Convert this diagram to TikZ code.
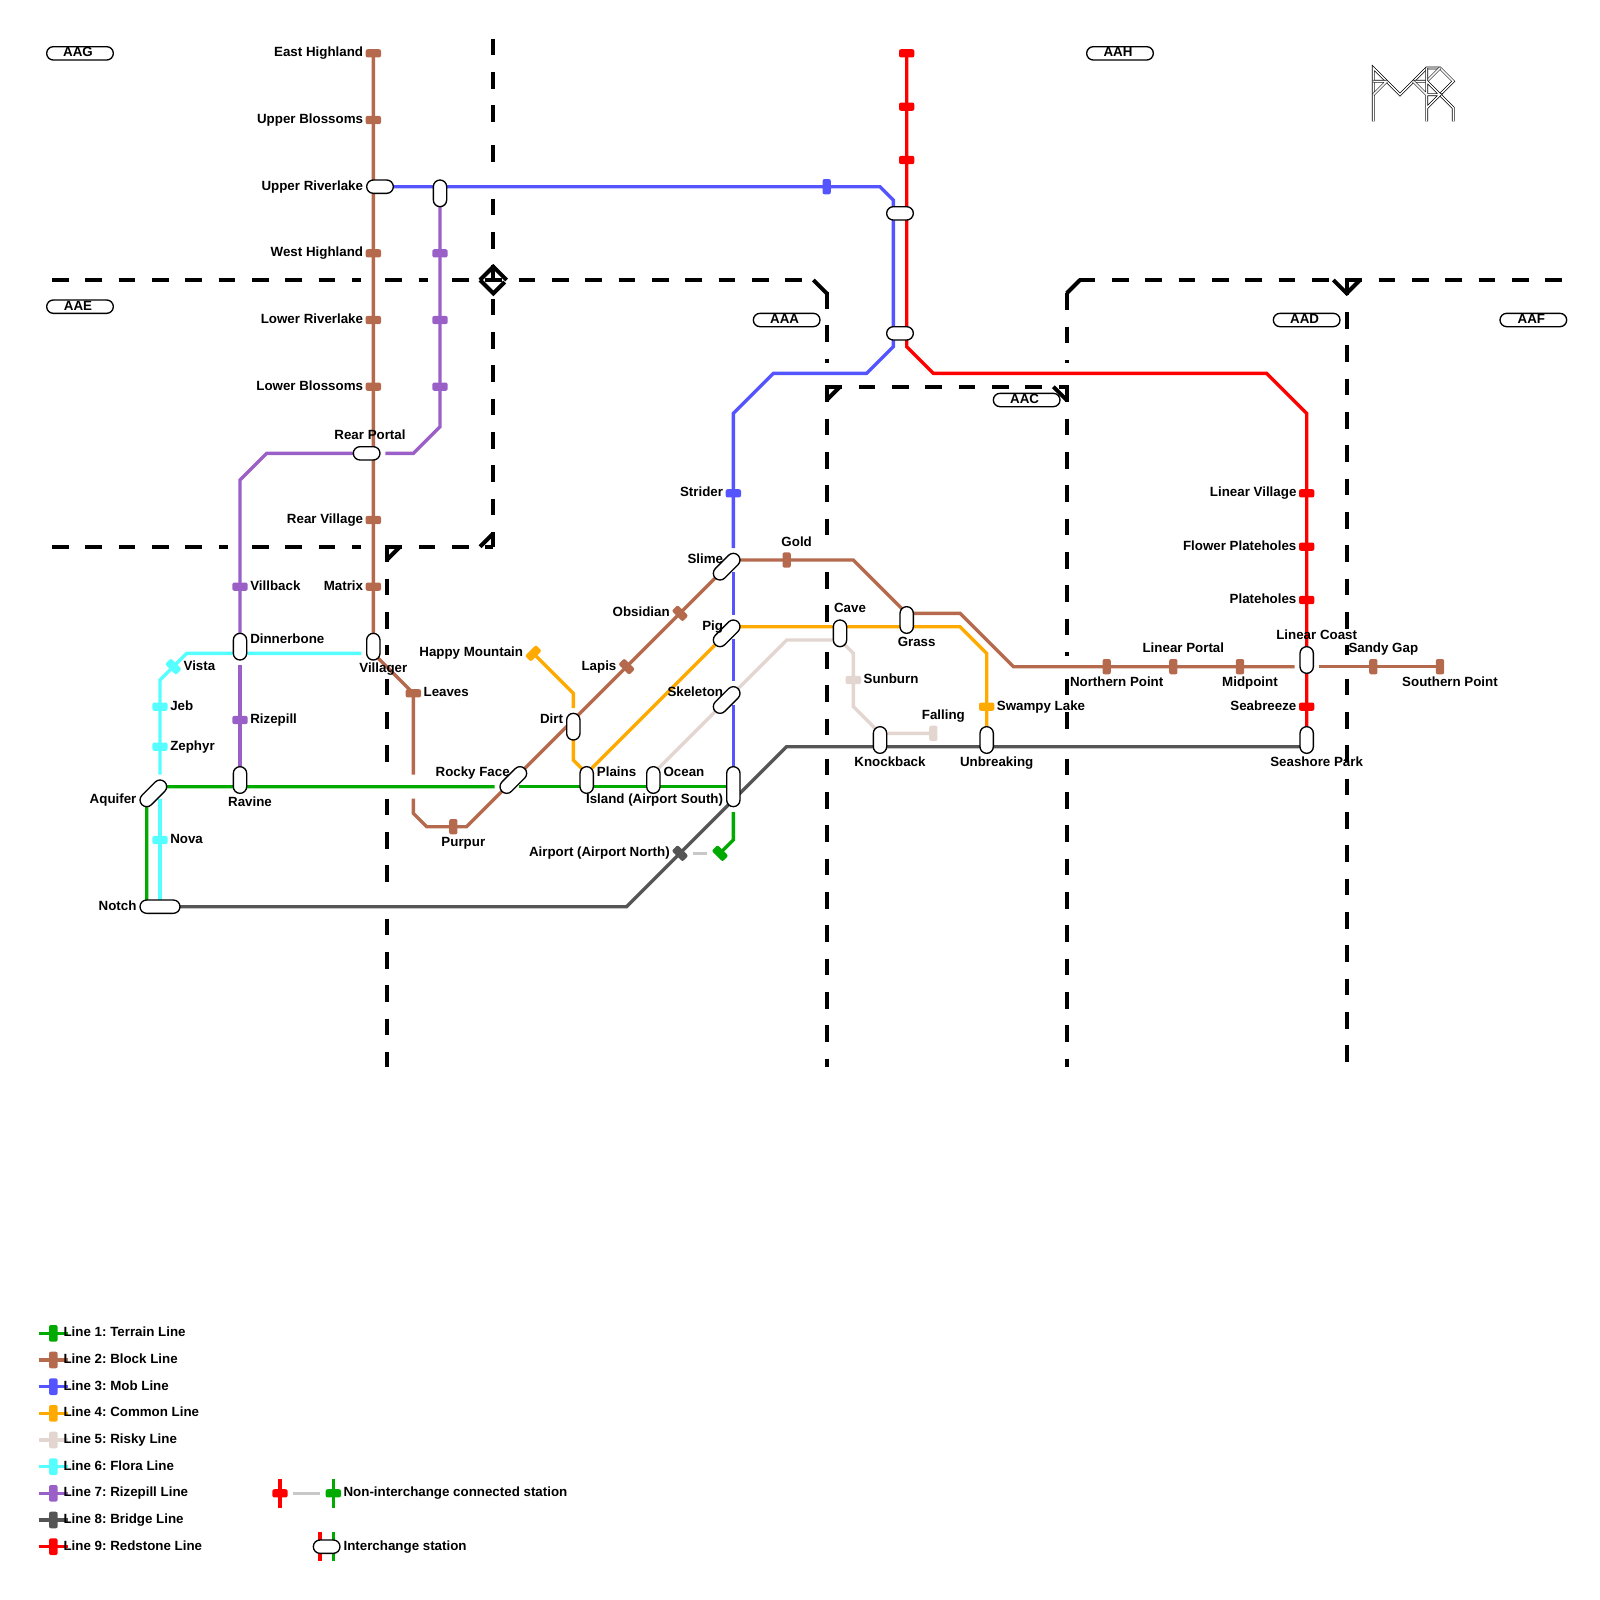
\documentclass[tikz,border=0pt]{standalone}
\usepackage{fontspec}
\setmainfont{Liberation Sans}
\usepackage{pgf,tikz}
\usetikzlibrary{backgrounds}
\frenchspacing
\definecolor{terrain}{HTML}{00AA00}
\definecolor{block}{HTML}{B5694D}
\definecolor{mob}{HTML}{5555FF}
\definecolor{common}{HTML}{FFAA00}
\definecolor{risky}{HTML}{E3D5D0}
\definecolor{flora}{HTML}{55FFFF}
\definecolor{rizepill}{HTML}{9B5FC8}
\definecolor{bridge}{HTML}{555555}
\definecolor{redstone}{HTML}{FF0000}
\definecolor{linkgrey}{HTML}{C8C8C8}
\tikzset{
  border/.style={line width=3pt,dash pattern=on 12.5pt off 12.5pt},
  corner/.style={line width=3pt},
  metro/.style={line width=2.5pt,line join=miter},
  tick/.style={draw=none,rectangle,rounded corners=1.5pt,minimum width=11.5pt,minimum height=6.2pt,inner sep=0pt},
  tickv/.style={tick,rotate=90},
  tickn/.style={tick,rotate=-45},
  tickp/.style={tick,rotate=45},
  lgtick/.style={tickv,minimum width=12.5pt,minimum height=6.5pt},
  pill/.style={draw=black,fill=white,line width=1pt,rectangle,rounded corners=5pt,minimum width=20pt,minimum height=10pt,inner sep=0pt},
  pillv/.style={pill,rotate=90},
  pilld/.style={pill,minimum width=24.14pt,rotate=45},
  zone/.style={pill,minimum width=50pt,font=\bfseries},
  txt/.style={font=\bfseries,text height=7.2pt,text depth=2pt,inner sep=0pt,yshift=-1pt},
  txtr/.style={txt,anchor=east},
  txtl/.style={txt,anchor=west},
  logoline/.style={draw=black,double=white,double distance=1.1pt,line width=.5pt}
}
\begin{document}
\begin{tikzpicture}[x=10pt,y=-10pt]
    \useasboundingbox (0,0) rectangle (120,120);

    % zones
    \node[zone] (aag) at (6,4) {\raisebox{1.5pt}{AAG}\kern3pt};
    \node[zone] (aah) at (84,4) {\raisebox{1.5pt}{AAH}\kern3pt};
    \node[zone] (aae) at (6,23) {\raisebox{1.5pt}{AAE}\kern3pt};
    \node[zone] (aaa) at (59,24) {\raisebox{1.5pt}{AAA}\kern3pt};
    \node[zone] (aad) at (98,24) {\raisebox{1.5pt}{AAD}\kern3pt};
    \node[zone] (aaf) at (115,24) {\raisebox{1.5pt}{AAF}\kern3pt};
    \node[zone] (aac) at (77,30) {\raisebox{1.5pt}{AAC}\kern3pt};

    % interchanges
    \node[pill] (upperriverlake) at (28.5,14) {};
    \node[pillv] (bluepurple) at (33,14.5) {};
    \node[pill] (bluered) at (67.5,16) {};
    \node[pill] (bluered2) at (67.5,25) {};
    \node[pill] (rearportal) at (27.5,34) {};
    \node[pillv] (dinnerbone) at (18,48.5) {};
    \node[pillv] (villager) at (28,48.5) {};
    \node[pillv] (ravine) at (18,58.5) {};
    \node[pilld] (aquifer) at (11.5,59.5) {};
    \node[pill,minimum width=30pt] (notch) at (12,68) {};
    \node[pilld] (slime) at (54.5,42.5) {};
    \node[pilld] (pig) at (54.5,47.5) {};
    \node[pilld] (skeleton) at (54.5,52.5) {};
    \node[pilld] (rockyface) at (38.5,58.5) {};
    \node[pillv] (dirt) at (43,54.5) {};
    \node[pillv] (plains) at (44,58.5) {};
    \node[pillv] (ocean) at (49,58.5) {};
    \node[pillv,minimum width=30pt] (island) at (55,59) {};
    \node[pillv] (cave) at (63,47.5) {};
    \node[pillv] (grass) at (68,46.5) {};
    \node[pillv] (knockback) at (66,55.5) {};
    \node[pillv] (unbreaking) at (74,55.5) {};
    \node[pillv] (seashore) at (98,55.5) {};
    \node[pillv] (linearcoast) at (98,49.5) {};

    % stations
    \node[tick,fill=block] (easthighland) at (28,4) {};
    \node[tick,fill=block] (upperblossoms) at (28,9) {};
    \node[tick,fill=block] (westhighland) at (28,19) {};
    \node[tick,fill=block] (lowerriverlake) at (28,24) {};
    \node[tick,fill=block] (lowerblossoms) at (28,29) {};
    \node[tick,fill=block] (rearvillage) at (28,39) {};
    \node[tick,fill=block] (matrix) at (28,44) {};
    \node[tick,fill=block] (leaves) at (31,52) {};
    \node[tickv,fill=block] (purpur) at (34,62) {};
    \node[tickn,fill=block] (lapis) at (47,50) {};
    \node[tickn,fill=block] (obsidian) at (51,46) {};
    \node[tickv,fill=block] (gold) at (59,42) {};
    \node[tickv,fill=block] (northernpoint) at (83,50) {};
    \node[tickv,fill=block] (linearportal) at (88,50) {};
    \node[tickv,fill=block] (midpoint) at (93,50) {};
    \node[tickv,fill=block] (sandygap) at (103,50) {};
    \node[tickv,fill=block] (southernpoint) at (108,50) {};
    \node[tickv,fill=mob] (mobstop) at (62,14) {};
    \node[tick,fill=mob] (strider) at (55,37) {};
    \node[tick,fill=rizepill] (purplea) at (33,19) {};
    \node[tick,fill=rizepill] (purpleb) at (33,24) {};
    \node[tick,fill=rizepill] (purplec) at (33,29) {};
    \node[tick,fill=rizepill] (villback) at (18,44) {};
    \node[tick,fill=rizepill] (rizepillstop) at (18,54) {};
    \node[tickn,fill=flora] (vista) at (13,50) {};
    \node[tick,fill=flora] (jeb) at (12,53) {};
    \node[tick,fill=flora] (zephyr) at (12,56) {};
    \node[tick,fill=flora] (nova) at (12,63) {};
    \node[tickp,fill=common] (happymountain) at (40,49) {};
    \node[tick,fill=common] (swampylake) at (74,53) {};
    \node[tick,fill=risky] (sunburn) at (64,51) {};
    \node[tickv,fill=risky] (falling) at (70,55) {};
    \node[tickn,fill=bridge] (airportnorth) at (51,64) {};
    \node[tickn,fill=terrain] (airportsouth) at (54,64) {};
    \node[tick,fill=redstone] (reda) at (68,4) {};
    \node[tick,fill=redstone] (redb) at (68,8) {};
    \node[tick,fill=redstone] (redc) at (68,12) {};
    \node[tick,fill=redstone] (linearvillage) at (98,37) {};
    \node[tick,fill=redstone] (flowerplateholes) at (98,41) {};
    \node[tick,fill=redstone] (plateholes) at (98,45) {};
    \node[tick,fill=redstone] (seabreeze) at (98,53) {};

    % legend
    \node[lgtick,fill=terrain] (lg1) at (4,100) {};
    \node[lgtick,fill=block] (lg2) at (4,102) {};
    \node[lgtick,fill=mob] (lg3) at (4,104) {};
    \node[lgtick,fill=common] (lg4) at (4,106) {};
    \node[lgtick,fill=risky] (lg5) at (4,108) {};
    \node[lgtick,fill=flora] (lg6) at (4,110) {};
    \node[lgtick,fill=rizepill] (lg7) at (4,112) {};
    \node[lgtick,fill=bridge] (lg8) at (4,114) {};
    \node[lgtick,fill=redstone] (lg9) at (4,116) {};
    \node[tick,fill=redstone] (lgred) at (21,112) {};
    \node[tick,fill=terrain] (lggreen) at (25,112) {};
    \node[pill] (lgpill) at (24.5,116) {};

    \begin{pgfonlayer}{background}
    % borders
    \draw[border] (3.9,21) -- (27.1,21) (28.9,21) -- (32.1,21) (33.9,21) -- (60.15,21);
    \draw[border] (80.9,21) -- (117.15,21);
    \draw[border] (3.9,41) -- (17.1,41) (18.9,41) -- (27.1,41) (28.9,41) -- (37,41);
    \draw[border] (61.9,29) -- (80,29);
    \draw[border] (37,2.9) -- (37,9.15) (37,10.9) -- (37,12.15) (37,14.9) -- (37,21.15) (37,22.4) -- (37,41);
    \draw[border] (29,40.9) -- (29,49.1) (29,50.9) -- (29,58.1) (29,59.9) -- (29,67.1) (29,68.9) -- (29,80);
    \draw[border] (62,21.9) -- (62,27.2) (62,28.9) -- (62,41.1) (62,42.9) -- (62,46.65) (62,48.9) -- (62,55.1) (62,56.9) -- (62,80);
    \draw[border] (80,22) -- (80,27.2) (80,28.9) -- (80,49.2) (80,50.9) -- (80,55.1) (80,56.9) -- (80,80);
    \draw[border] (101,20.9) -- (101,49.1) (101,50.9) -- (101,79.65);
    \draw[corner] (36,21) -- (37,20) -- (38,21) (37.85,21.15) -- (37,22) -- (36,21);
    \draw[corner] (36,41) -- (37,40) (30,41) -- (29,42) (61,21) -- (62,22) (80,22) -- (81,21);
    \draw[corner] (63,29) -- (62,30) (79,29) -- (80,30) (100,21) -- (101,22) -- (102,21);

    % Line 3
    \draw[metro,mob] (upperriverlake.center) -- (66,14) -- (67,15) -- (67,26) -- (65,28) -- (58,28) -- (55,31) -- (55,41.1);
    \draw[metro,mob] (55,42.9) -- (55,46.1) (55,47.9) -- (55,51.1) (55,52.9) -- (island.center);
    % Line 7
    \draw[metro,rizepill] (bluepurple.center) -- (33,32) -- (31,34) -- (28.9,34);
    \draw[metro,rizepill] (rearportal.center) -- (20,34) -- (18,36) -- (18,48.1);
    \draw[metro,rizepill] (18,49.9) -- (ravine.center);
    % Line 6
    \draw[metro,flora] (27.1,49) -- (14,49) -- (12,51) -- (12,58.1);
    \draw[metro,flora] (12,59.9) -- (notch.center);
    % Line 4
    \draw[metro,common] (happymountain.center) -- (43,52) -- (43,53.1);
    \draw[metro,common] (43,54.9) -- (43,57) -- (44,58) -- (45,57) -- (54,48) -- (55,47) -- (72,47) -- (74,49) -- (unbreaking.center);
    % Line 5
    \draw[metro,risky] (ocean.center) -- (49,58) -- (54,53) (55,52) -- (59,48) -- (63,48) -- (64,49) -- (64,53) -- (66,55) -- (falling.center);
    % Line 2
    \draw[metro,block] (easthighland.center) -- (28,49) -- (leaves.center) -- (31,58.1);
    \draw[metro,block] (31,59.9) -- (31,61) -- (32,62) -- (35,62) -- (54,43) -- (55,42) -- (64,42) -- (68,46) -- (72,46) -- (76,50) -- (97.1,50);
    \draw[metro,block] (98.9,50) -- (southernpoint.center);
    % Line 1
    \draw[metro,terrain] (island.center) -- (38.9,59);
    \draw[metro,terrain] (37.1,59) -- (12,59) -- (11,60) -- (11,68);
    \draw[metro,terrain] (55,60.9) -- (55,63) -- (airportsouth.center);
    % Line 8
    \draw[metro,bridge] (notch.center) -- (47,68) -- (59,56) -- (98,56);
    % Line 9
    \draw[metro,redstone] (reda.center) -- (68,26) -- (70,28) -- (95,28) -- (98,31) -- (seashore.center);
    % walkway
    \draw[metro,linkgrey] ([xshift=10pt]airportnorth.center) -- ([xshift=-10pt]airportsouth.center);
    % legend lines
    \draw[metro,terrain] ([xshift=-11pt]lg1.center) -- ([xshift=11pt]lg1.center);
    \draw[metro,block] ([xshift=-11pt]lg2.center) -- ([xshift=11pt]lg2.center);
    \draw[metro,mob] ([xshift=-11pt]lg3.center) -- ([xshift=11pt]lg3.center);
    \draw[metro,common] ([xshift=-11pt]lg4.center) -- ([xshift=11pt]lg4.center);
    \draw[metro,risky] ([xshift=-11pt]lg5.center) -- ([xshift=11pt]lg5.center);
    \draw[metro,flora] ([xshift=-11pt]lg6.center) -- ([xshift=11pt]lg6.center);
    \draw[metro,rizepill] ([xshift=-11pt]lg7.center) -- ([xshift=11pt]lg7.center);
    \draw[metro,bridge] ([xshift=-11pt]lg8.center) -- ([xshift=11pt]lg8.center);
    \draw[metro,redstone] ([xshift=-11pt]lg9.center) -- ([xshift=11pt]lg9.center);
    \draw[metro,redstone] ([yshift=-11pt]lgred.center) -- ([yshift=11pt]lgred.center);
    \draw[metro,terrain] ([yshift=-11pt]lggreen.center) -- ([yshift=11pt]lggreen.center);
    \draw[metro,linkgrey] ([xshift=10pt]lgred.center) -- ([xshift=-10pt]lggreen.center);
    \draw[metro,redstone] ([xshift=-5pt,yshift=-11pt]lgpill.center) -- ([xshift=-5pt,yshift=11pt]lgpill.center);
    \draw[metro,terrain] ([xshift=5pt,yshift=-11pt]lgpill.center) -- ([xshift=5pt,yshift=11pt]lgpill.center);
    \end{pgfonlayer}

    % names
    \node[txtr] (teasthighland) at (27.25,3.9) {East Highland};
    \node[txtr] (tupperblossoms) at (27.25,8.9) {Upper Blossoms};
    \node[txtr] (tupperriverlake) at (27.25,13.9) {Upper Riverlake};
    \node[txtr] (twesthighland) at (27.25,18.9) {West Highland};
    \node[txtr] (tlowerriverlake) at (27.25,23.9) {Lower Riverlake};
    \node[txtr] (tlowerblossoms) at (27.25,28.9) {Lower Blossoms};
    \node[txt] (trearportal) at (27.75,32.6) {Rear Portal};
    \node[txtr] (trearvillage) at (27.25,38.9) {Rear Village};
    \node[txtr] (tmatrix) at (27.25,43.9) {Matrix};
    \node[txtl] (tvillback) at (18.75,43.9) {Villback};
    \node[txtl] (tdinnerbone) at (18.75,47.9) {Dinnerbone};
    \node[txt] (tvillager) at (28.75,50.1) {Villager};
    \node[txtl] (tvista) at (13.75,49.9) {Vista};
    \node[txtl] (tjeb) at (12.75,52.9) {Jeb};
    \node[txtl] (tzephyr) at (12.75,55.9) {Zephyr};
    \node[txtl] (tnova) at (12.75,62.9) {Nova};
    \node[txtl] (trizepill) at (18.75,53.9) {Rizepill};
    \node[txtr] (taquifer) at (10.25,59.9) {Aquifer};
    \node[txt] (travine) at (18.75,60.1) {Ravine};
    \node[txtr] (tnotch) at (10.25,67.9) {Notch};
    \node[txtl] (tleaves) at (31.75,51.9) {Leaves};
    \node[txtr] (thappymountain) at (39.25,48.9) {Happy Mountain};
    \node[txtr] (tlapis) at (46.25,49.9) {Lapis};
    \node[txtr] (tobsidian) at (50.25,45.9) {Obsidian};
    \node[txtr] (tslime) at (54.25,41.9) {Slime};
    \node[txtr] (tpig) at (54.25,46.9) {Pig};
    \node[txtr] (tskeleton) at (54.25,51.9) {Skeleton};
    \node[txtr] (tdirt) at (42.25,53.9) {Dirt};
    \node[txtr] (trockyface) at (38.25,57.9) {Rocky Face};
    \node[txtl] (tplains) at (44.75,57.9) {Plains};
    \node[txtl] (tocean) at (49.75,57.9) {Ocean};
    \node[txtr] (tisland) at (54.25,59.9) {Island (Airport South)};
    \node[txt] (tpurpur) at (34.75,63.1) {Purpur};
    \node[txtr] (tairport) at (50.25,63.9) {Airport (Airport North)};
    \node[txtr] (tstrider) at (54.25,36.9) {Strider};
    \node[txt] (tgold) at (59.75,40.6) {Gold};
    \node[txt] (tcave) at (63.75,45.6) {Cave};
    \node[txt] (tgrass) at (68.75,48.1) {Grass};
    \node[txtl] (tsunburn) at (64.75,50.9) {Sunburn};
    \node[txt] (tfalling) at (70.75,53.6) {Falling};
    \node[txt] (tknockback) at (66.75,57.1) {Knockback};
    \node[txt] (tunbreaking) at (74.75,57.1) {Unbreaking};
    \node[txtl] (tswampylake) at (74.75,52.9) {Swampy Lake};
    \node[txt] (tnorthernpoint) at (83.75,51.1) {Northern Point};
    \node[txt] (tlinearportal) at (88.75,48.6) {Linear Portal};
    \node[txt] (tmidpoint) at (93.75,51.1) {Midpoint};
    \node[txt] (tlinearcoast) at (98.75,47.6) {Linear Coast};
    \node[txt] (tsandygap) at (103.75,48.6) {Sandy Gap};
    \node[txt] (tsouthernpoint) at (108.75,51.1) {Southern Point};
    \node[txt] (tseashore) at (98.75,57.1) {Seashore Park};
    \node[txtr] (tseabreeze) at (97.25,52.9) {Seabreeze};
    \node[txtr] (tplateholes) at (97.25,44.9) {Plateholes};
    \node[txtr] (tflowerplateholes) at (97.25,40.9) {Flower Plateholes};
    \node[txtr] (tlinearvillage) at (97.25,36.9) {Linear Village};

    % legend text
    \node[txtl] (tlg1) at (4.75,99.9) {Line 1: Terrain Line};
    \node[txtl] (tlg2) at (4.75,101.9) {Line 2: Block Line};
    \node[txtl] (tlg3) at (4.75,103.9) {Line 3: Mob Line};
    \node[txtl] (tlg4) at (4.75,105.9) {Line 4: Common Line};
    \node[txtl] (tlg5) at (4.75,107.9) {Line 5: Risky Line};
    \node[txtl] (tlg6) at (4.75,109.9) {Line 6: Flora Line};
    \node[txtl] (tlg7) at (4.75,111.9) {Line 7: Rizepill Line};
    \node[txtl] (tlg8) at (4.75,113.9) {Line 8: Bridge Line};
    \node[txtl] (tlg9) at (4.75,115.9) {Line 9: Redstone Line};
    \node[txtl] (tlgred) at (25.75,111.9) {Non-interchange connected station};
    \node[txtl] (tlgpill) at (25.75,115.9) {Interchange station};

    % logo
    \draw[logoline] (103,9.1) -- (103,5.1) -- (105,7.1) -- (107,5.1) -- (108,5.1) -- (109,6.1) -- (108,7.1) -- (109,8.1) -- (109,9.1);
    \draw[logoline] (103,6.1) -- (104,6.1) (103,7.1) -- (104,6.1) (106,6.1) -- (107,6.1) -- (108,5.1);
    \draw[logoline] (106,6.1) -- (107,7.1) -- (108,7.1) -- (107,8.1) (107,6.1) -- (108,7.1) (107,9.1) -- (107,5.1);
  \end{tikzpicture}
\end{document}
